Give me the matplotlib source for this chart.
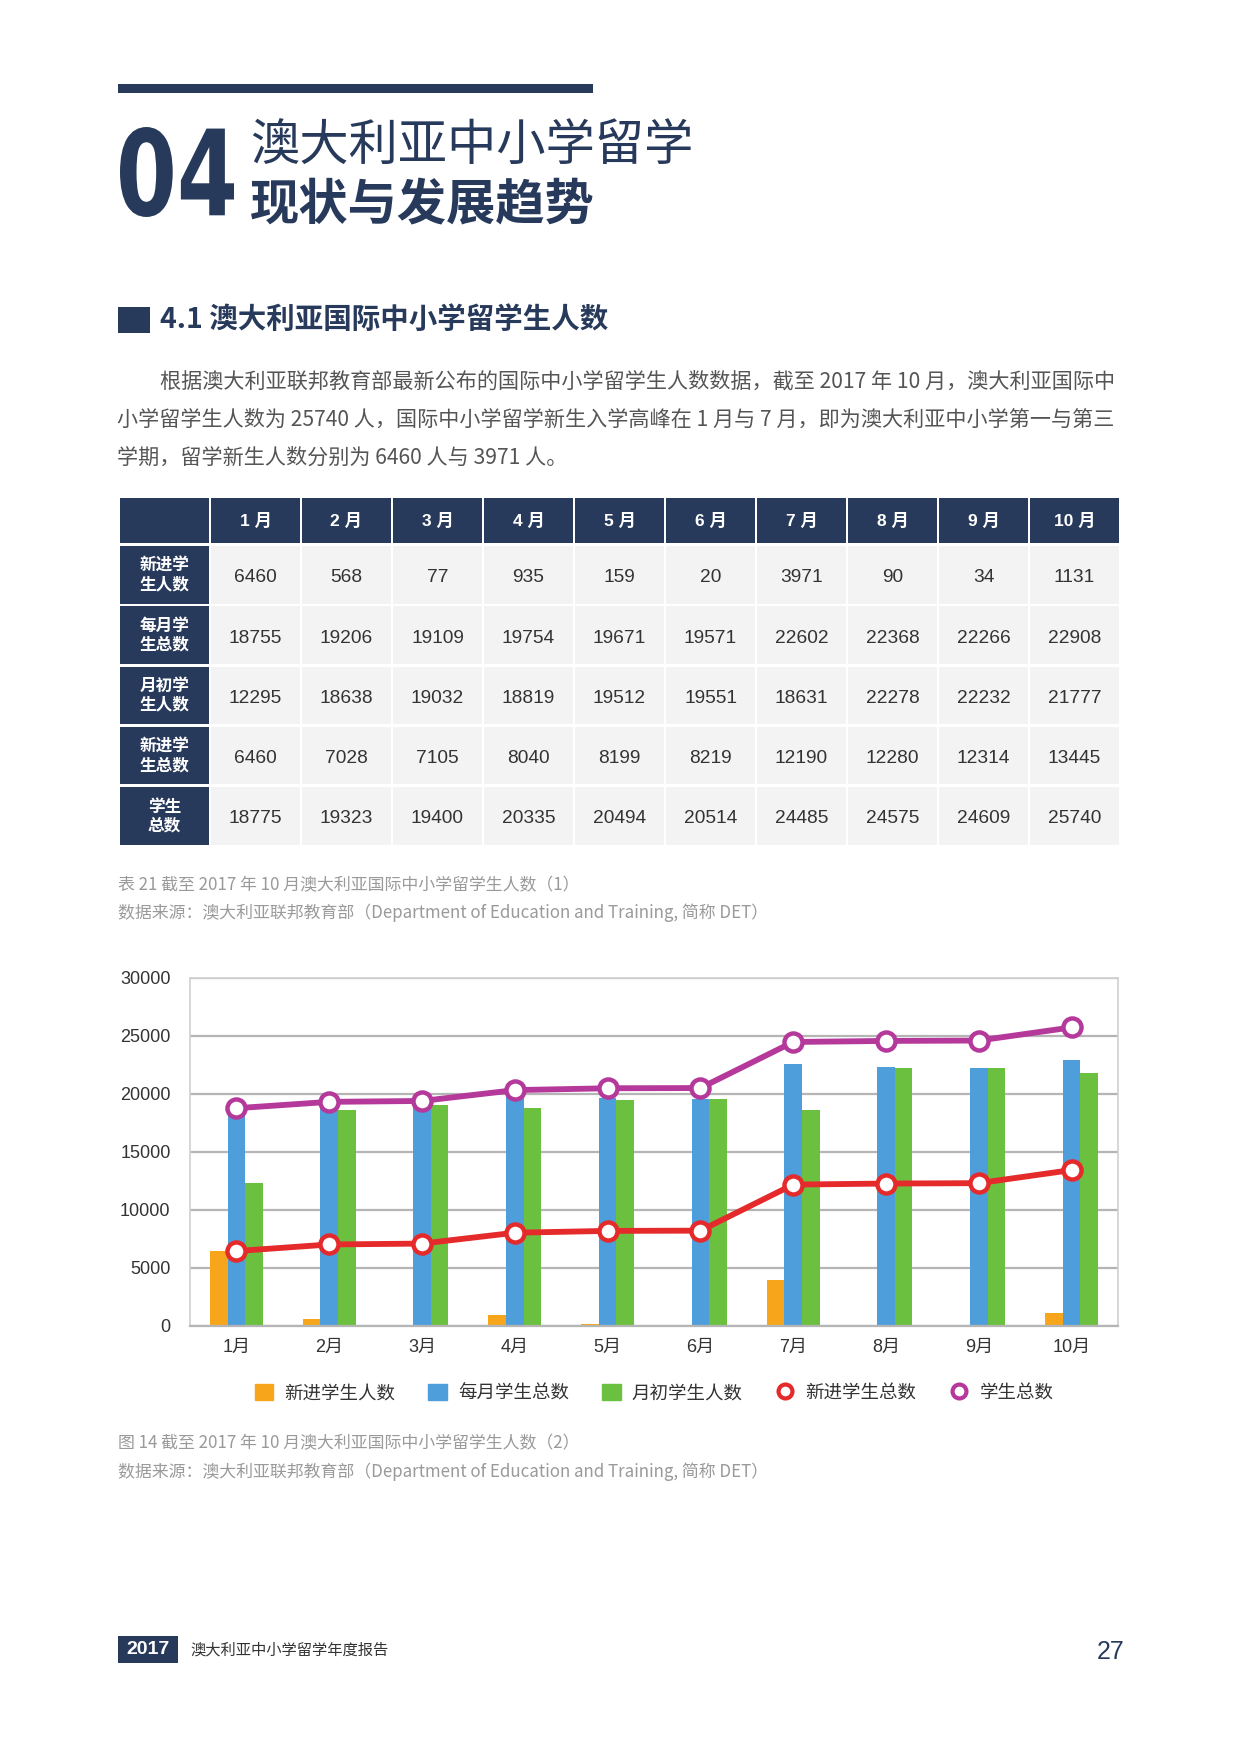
import matplotlib
matplotlib.use('Agg')
import matplotlib.pyplot as plt
from matplotlib.patches import Rectangle, PathPatch
from matplotlib.textpath import TextPath
from matplotlib.font_manager import FontProperties
from matplotlib.transforms import Affine2D
from matplotlib.lines import Line2D

plt.rcParams['font.family'] = ['Noto Sans CJK SC', 'DejaVu Sans']

# data
months = ['1月', '2月', '3月', '4月', '5月', '6月', '7月', '8月', '9月', '10月']
table_months = ['1 月', '2 月', '3 月', '4 月', '5 月', '6 月', '7 月', '8 月', '9 月', '10 月']
new_students = [6460, 568, 77, 935, 159, 20, 3971, 90, 34, 1131]
monthly_total = [18755, 19206, 19109, 19754, 19671, 19571, 22602, 22368, 22266, 22908]
month_start = [12295, 18638, 19032, 18819, 19512, 19551, 18631, 22278, 22232, 21777]
new_total = [6460, 7028, 7105, 8040, 8199, 8219, 12190, 12280, 12314, 13445]
student_total = [18775, 19323, 19400, 20335, 20494, 20514, 24485, 24575, 24609, 25740]
row_labels = ['新进学\n生人数', '每月学\n生总数', '月初学\n生人数', '新进学\n生总数', '学生\n总数']
series_names = ['新进学生人数', '每月学生总数', '月初学生人数', '新进学生总数', '学生总数']
y_ticks = [0, 5000, 10000, 15000, 20000, 25000, 30000]

paragraph = [
    '根据澳大利亚联邦教育部最新公布的国际中小学留学生人数数据，截至 2017 年 10 月，澳大利亚国际中',
    '小学留学生人数为 25740 人，国际中小学留学新生入学高峰在 1 月与 7 月，即为澳大利亚中小学第一与第三',
    '学期，留学新生人数分别为 6460 人与 3971 人。',
]
table_caption = '表 21 截至 2017 年 10 月澳大利亚国际中小学留学生人数（1）'
chart_caption = '图 14 截至 2017 年 10 月澳大利亚国际中小学留学生人数（2）'
source = '数据来源：澳大利亚联邦教育部（Department of Education and Training, 简称 DET）'

navy = '#283a5b'
c_orange = '#f7a61c'
c_blue = '#4f9edc'
c_green = '#6cc040'
c_red = '#e52a2c'
c_purple = '#b5399b'
num_font = ['Liberation Sans', 'Arial', 'Noto Sans CJK SC']
light_font = ['Noto Sans CJK SC Light', 'Noto Sans CJK SC DemiLight', 'Noto Sans CJK SC']

fig = plt.figure(figsize=(12.4, 17.54), dpi=100)
page = fig.add_axes([0, 0, 1, 1])
page.set_xlim(0, 1240)
page.set_ylim(1754, 0)
page.axis('off')

# header
page.add_patch(Rectangle((118, 84), 475, 9, color=navy, lw=0))
tp = TextPath((0, 0), '04', size=100, prop=FontProperties(family='DejaVu Sans', weight='bold'))
bb = tp.get_extents()
trans = Affine2D().translate(-bb.x0, -bb.y0).scale(114 / bb.width, -90 / bb.height).translate(120, 217)
page.add_patch(PathPatch(trans.transform_path(tp), facecolor=navy, lw=0))
page.text(250, 146, '澳大利亚中小学留学', fontsize=35.5, fontweight='light', color=navy,
          va='center', family=light_font)
page.text(250, 205, '现状与发展趋势', fontsize=35.5, fontweight='bold', color=navy, va='center')

page.add_patch(Rectangle((118, 307), 32, 26, color=navy, lw=0))
page.text(160, 320, '4.1 澳大利亚国际中小学留学生人数', fontsize=20.5, fontweight='bold',
          color=navy, va='center')

for i, line in enumerate(paragraph):
    page.text(160 if i == 0 else 117, 382 + i * 38, line, fontsize=15.2, color='#555555',
              va='center', family=light_font)

# table
tbl_x0, first_w, col_w, gap = 120, 89, 89, 2
head_y, head_h = 498, 45
row_y0, row_pitch, row_h = 546, 60.3, 57.5
page.add_patch(Rectangle((tbl_x0, head_y), first_w, head_h, color=navy, lw=0))
for j, m in enumerate(table_months):
    x = tbl_x0 + first_w + gap + j * (col_w + gap)
    page.add_patch(Rectangle((x, head_y), col_w, head_h, color=navy, lw=0))
    page.text(x + col_w / 2, head_y + head_h / 2, m, fontsize=12.5, fontweight='bold',
              color='white', ha='center', va='center', family=num_font)
table_rows = [new_students, monthly_total, month_start, new_total, student_total]
for i, (label, values) in enumerate(zip(row_labels, table_rows)):
    y = row_y0 + i * row_pitch
    page.add_patch(Rectangle((tbl_x0, y), first_w, row_h, color=navy, lw=0))
    page.text(tbl_x0 + first_w / 2, y + row_h / 2, label, fontsize=12, fontweight='bold',
              color='white', ha='center', va='center', linespacing=1.05)
    for j, v in enumerate(values):
        x = tbl_x0 + first_w + gap + j * (col_w + gap)
        page.add_patch(Rectangle((x, y), col_w, row_h, color='#f3f3f3', lw=0))
        page.text(x + col_w / 2, y + row_h / 2 + 3, str(v), fontsize=13.8, color='#333333',
                  ha='center', va='center', family=num_font)

page.text(118, 885, table_caption, fontsize=12.2, color='#9a9a9a', va='center', family=light_font)
page.text(118, 913, source, fontsize=12.2, color='#9a9a9a', va='center', family=light_font)

# chart
ax = fig.add_axes([190 / 1240, (1754 - 1326) / 1754, 928 / 1240, 348 / 1754])
x = list(range(len(months)))
w = 0.19
ax.bar([i - w for i in x], new_students, w, color=c_orange, zorder=2)
ax.bar(x, monthly_total, w, color=c_blue, zorder=2)
ax.bar([i + w for i in x], month_start, w, color=c_green, zorder=2)
ax.plot(x, new_total, color=c_red, lw=4.2, marker='o', ms=13, mfc='white', mec=c_red,
        mew=3.2, zorder=3)
ax.plot(x, student_total, color=c_purple, lw=4.2, marker='o', ms=13, mfc='white',
        mec=c_purple, mew=3.2, zorder=3)
ax.set_xlim(-0.5, len(months) - 0.5)
ax.set_ylim(0, 30000)
ax.set_yticks(y_ticks)
ax.set_yticklabels([str(t) for t in y_ticks], family=num_font)
ax.set_xticks(x)
ax.set_xticklabels(months, family=num_font)
ax.tick_params(axis='both', length=0, labelsize=13, colors='#333333')
ax.tick_params(axis='y', pad=14)
ax.tick_params(axis='x', pad=9)
ax.yaxis.grid(True, color='#b5b5b5', lw=1.6, zorder=0)
ax.set_axisbelow(True)
for side in ['top', 'right', 'left']:
    ax.spines[side].set_color('#d0d0d0')
    ax.spines[side].set_linewidth(1.2)
ax.spines['bottom'].set_color('#b5b5b5')
ax.spines['bottom'].set_linewidth(1.6)

handles = [
    Rectangle((0, 0), 1, 1, color=c_orange),
    Rectangle((0, 0), 1, 1, color=c_blue),
    Rectangle((0, 0), 1, 1, color=c_green),
    Line2D([], [], ls='none', marker='o', ms=10, mfc='white', mec=c_red, mew=3),
    Line2D([], [], ls='none', marker='o', ms=10, mfc='white', mec=c_purple, mew=3),
]
leg = ax.legend(handles, series_names, loc='center', bbox_to_anchor=(0.5, -0.193), ncol=5,
                frameon=False, fontsize=13.3, handlelength=1.0, handleheight=1.0,
                handletextpad=0.6, columnspacing=1.8)
for t in leg.get_texts():
    t.set_color('#333333')

page.text(118, 1443, chart_caption, fontsize=12.2, color='#9a9a9a', va='center', family=light_font)
page.text(118, 1472, source, fontsize=12.2, color='#9a9a9a', va='center', family=light_font)

# footer
page.add_patch(Rectangle((118, 1636), 60, 27, color=navy, lw=0))
page.text(148, 1650, '2017', fontsize=14, fontweight='bold', color='white', ha='center',
          va='center', family=num_font)
page.text(190, 1650, '澳大利亚中小学留学年度报告', fontsize=11, color='#333333', va='center')
page.text(1125, 1652, '27', fontsize=18, color=navy, ha='right', va='center', family=num_font)

fig.savefig('out.png', dpi=100)
